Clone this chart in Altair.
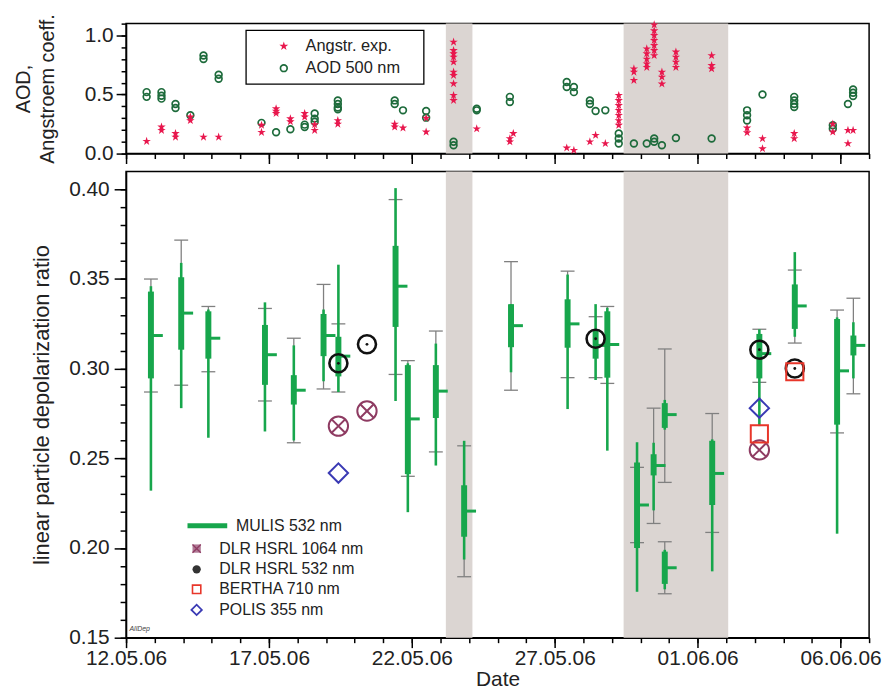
import altair as alt
import pandas as pd

# x positions are days after 12.05.06 00:00

ang_day = [0.72, 1.24, 1.24, 1.73, 1.73, 2.25, 2.25, 2.71, 3.24, 4.74, 4.74, 5.25, 5.25, 5.25,
           5.75, 5.75, 6.25, 6.25, 6.60, 6.60, 7.41, 7.41, 9.40, 9.40, 9.69, 10.50, 10.50,
           11.46, 11.46, 11.46, 11.46, 11.46, 11.46, 11.46, 11.46, 11.46, 11.46,
           12.27, 13.43, 13.43, 13.55, 15.42, 15.67, 16.23, 16.43, 16.77,
           17.24, 17.24, 17.24, 17.24, 17.24, 17.24, 17.24, 17.77, 17.77, 17.77,
           18.22, 18.22, 18.22, 18.22, 18.22, 18.48, 18.48, 18.48, 18.48, 18.48, 18.48, 18.48,
           18.75, 18.75, 18.75, 19.24, 19.24, 19.24, 19.24, 20.49, 20.49, 20.49,
           21.73, 21.73, 22.27, 22.27, 23.38, 23.38, 24.73, 24.73, 25.26, 25.26, 25.44]
ang_val = [0.104, 0.225, 0.197, 0.17, 0.14, 0.31, 0.28, 0.14, 0.14, 0.24, 0.18, 0.38, 0.36, 0.34,
           0.296, 0.27, 0.34, 0.31, 0.245, 0.197, 0.28, 0.25, 0.25, 0.225, 0.217, 0.30, 0.183,
           0.944, 0.873, 0.845, 0.817, 0.775, 0.69, 0.662, 0.592, 0.493, 0.45,
           0.21, 0.127, 0.10, 0.17, 0.048, 0.028, 0.10, 0.155, 0.085,
           0.493, 0.45, 0.408, 0.366, 0.324, 0.28, 0.24, 0.718, 0.69, 0.62,
           0.887, 0.845, 0.80, 0.76, 0.73, 1.09, 1.04, 1.0, 0.958, 0.915, 0.873, 0.83,
           0.69, 0.648, 0.59, 0.86, 0.817, 0.775, 0.73, 0.83, 0.746, 0.718,
           0.217, 0.177, 0.127, 0.042, 0.17, 0.127, 0.25, 0.183, 0.197, 0.085, 0.197]

aod_day = [0.72, 0.72, 1.24, 1.24, 1.24, 1.73, 1.73, 2.25, 2.71, 2.71, 3.24, 3.24, 4.74, 5.25,
           5.75, 6.25, 6.25, 6.60, 6.60, 6.60, 7.41, 7.41, 7.41, 7.41, 9.40, 9.40, 9.69,
           10.50, 10.50, 11.46, 11.46, 12.27, 12.27, 13.43, 13.43, 15.42, 15.42, 15.67, 15.67,
           16.23, 16.23, 16.43, 16.77, 17.24, 17.24, 17.24, 17.77, 18.22, 18.48, 18.48, 18.75,
           19.24, 20.49, 21.73, 21.73, 21.73, 22.27, 23.38, 23.38, 23.38, 23.38, 24.73, 24.73,
           25.26, 25.44, 25.44, 25.44]
aod_val = [0.52, 0.48, 0.52, 0.49, 0.465, 0.42, 0.386, 0.324, 0.83, 0.80, 0.667, 0.634, 0.26, 0.18,
           0.206, 0.245, 0.225, 0.34, 0.296, 0.27, 0.45, 0.42, 0.39, 0.375, 0.45, 0.42, 0.366,
           0.36, 0.304, 0.10, 0.07, 0.38, 0.366, 0.48, 0.437, 0.606, 0.563, 0.563, 0.52,
           0.45, 0.42, 0.36, 0.366, 0.17, 0.127, 0.085, 0.085, 0.085, 0.127, 0.10, 0.07,
           0.132, 0.127, 0.366, 0.324, 0.28, 0.50, 0.48, 0.45, 0.42, 0.394, 0.24, 0.21,
           0.42, 0.543, 0.515, 0.487]

top_series = ["Angstr. exp.", "AOD 500 nm"]

m_day = [0.87, 1.93, 2.88, 4.86, 5.87, 6.91, 7.43, 9.43, 9.86, 10.84, 11.83, 13.47,
         15.45, 16.43, 16.84, 17.88, 18.46, 18.85, 18.85, 20.51, 22.16, 23.40, 24.88, 25.45]
m_min = [0.232, 0.278, 0.2615, 0.265, 0.260, 0.293, 0.287, 0.282, 0.220, 0.246, 0.1936, 0.298,
         0.2775, 0.2937, 0.2543, 0.1756, 0.221, 0.266, 0.177, 0.187, 0.268, 0.3178, 0.208, 0.2946]
m_max = [0.346, 0.359, 0.333, 0.337, 0.313, 0.333, 0.358, 0.4007, 0.303, 0.314, 0.2598, 0.336,
         0.3525, 0.336, 0.334, 0.259, 0.2587, 0.2826, 0.199, 0.2606, 0.322, 0.365, 0.3286, 0.3259]
m_q1 = [0.2946, 0.3106, 0.3056, 0.291, 0.280, 0.307, 0.2957, 0.3233, 0.2412, 0.2725, 0.2063, 0.312,
        0.3117, 0.3056, 0.295, 0.200, 0.2405, 0.267, 0.180, 0.224, 0.2946, 0.3222, 0.2688, 0.3074]
m_q3 = [0.343, 0.351, 0.332, 0.3244, 0.2964, 0.3305, 0.3178, 0.3685, 0.302, 0.302, 0.235, 0.336,
        0.3387, 0.321, 0.332, 0.2477, 0.2523, 0.2808, 0.198, 0.2598, 0.3194, 0.347, 0.3277, 0.3185]
m_mean = [0.3185, 0.331, 0.317, 0.3078, 0.288, 0.3185, 0.307, 0.346, 0.272, 0.2875, 0.2206, 0.324,
          0.325, 0.313, 0.3135, 0.224, 0.246, 0.2744, 0.189, 0.2416, 0.3084, 0.335, 0.2988, 0.313]
m_sd_lo = [0.287, 0.2908, 0.2983, 0.282, 0.2587, 0.2887, 0.287, 0.2968, 0.240, 0.2536, 0.184, 0.288,
           0.295, 0.295, 0.2918, 0.203, 0.2137, 0.2366, 0.1745, 0.2087, 0.2924, 0.3143, 0.2642, 0.286]
m_sd_hi = [0.350, 0.3717, 0.3347, 0.3336, 0.317, 0.347, 0.325, 0.3943, 0.3045, 0.321, 0.257, 0.3597,
           0.3544, 0.329, 0.3347, 0.245, 0.278, 0.311, 0.2035, 0.275, 0.322, 0.355, 0.3327, 0.3393]

hsrl1064_day = [7.43, 8.43, 22.16]
hsrl1064_val = [0.268, 0.2764, 0.2547]
hsrl532_day = [7.43, 8.43, 16.43, 22.16, 23.40]
hsrl532_val = [0.303, 0.3136, 0.3167, 0.3106, 0.3001]
bertha_day = [22.16, 23.40]
bertha_val = [0.2637, 0.2983]
polis_day = [7.43, 22.16]
polis_val = [0.2418, 0.278]

shade_start = [11.19, 17.41]
shade_end = [12.12, 21.07]

bottom_series = ["MULIS 532 nm", "DLR HSRL 1064 nm", "DLR HSRL 532 nm", "BERTHA   710 nm", "POLIS 355 nm"]

x_tick_labels = ["12.05.06", "17.05.06", "22.05.06", "27.05.06", "01.06.06", "06.06.06"]
x_tick_days = [0, 5, 10, 15, 20, 25]

# legend placement (data units of each panel)
top_leg_box = {"x0": 4.2, "x1": 10.42, "y0": 0.588, "y1": 1.042}
top_leg_sym_day, top_leg_lab_day, top_leg_rows = 5.52, 6.28, [0.908, 0.723]
bot_leg_sym_day, bot_leg_lab_day, bot_leg_rows = 2.47, 3.26, [0.2124, 0.1997, 0.1881, 0.1770, 0.1655]
bot_leg_line = (2.15, 3.54)
bot_leg_mulis_lab_day = 3.85

GREEN = "#17a64c"
GRAY = "#808080"
RED = "#e8174d"
DGREEN = "#1d6b3b"
PURPLE = "#8e3b62"
BLUE = "#3a3ab4"
ORANGE = "#e8362a"
SHADE = "#dbd5d2"
FONT = "Liberation Sans"
TXT = "#222222"
W = 749

# five-pointed star as an SVG symbol path
STAR = ("M0,-1L0.2245,-0.309L0.951,-0.309L0.363,0.118L0.588,0.809L0,0.382"
        "L-0.588,0.809L-0.363,0.118L-0.951,-0.309L-0.2245,-0.309Z")
XCROSS = "M-0.72,-0.72L0.72,0.72M-0.72,0.72L0.72,-0.72"

xs = alt.Scale(domain=[0, 26], nice=False, zero=False)
label_expr = "[" + ",".join("'%s'" % l for l in x_tick_labels) + "][round(datum.value / 5)]"


def x_major(labels):
    if labels:
        return alt.Axis(values=x_tick_days, labelExpr=label_expr, tickSize=10, orient="bottom",
                        labelFlush=False, labelOverlap=False, labelFontSize=21, labelPadding=0,
                        title="Date", titleFontSize=21, titlePadding=0)
    return alt.Axis(values=x_tick_days, tickSize=10, orient="bottom", labels=False, title=None)


x_minor = alt.Axis(values=list(range(27)), tickSize=5, orient="bottom", labels=False, title=None, domain=False)
XN = alt.X("day:Q", scale=xs, axis=None)

# ---------------- top chart ----------------
yt = alt.Scale(domain=[0, 1.1], nice=False, zero=False)
YTN = alt.Y("v:Q", scale=yt, axis=None)
aod_df = pd.DataFrame({"day": aod_day, "v": aod_val})
ang_df = pd.DataFrame({"day": ang_day, "v": ang_val})
tshade_df = pd.DataFrame({"s": shade_start, "e": shade_end, "y0": [0.0] * 2, "y1": [1.1] * 2})

tshade = alt.Chart(tshade_df).mark_rect(color=SHADE).encode(
    x=alt.X("s:Q", scale=xs, axis=x_major(False)), x2="e:Q",
    y=alt.Y("y0:Q", scale=yt,
            axis=alt.Axis(values=[0.0, 0.5, 1.0], format=".1f", tickSize=10, orient="left",
                          labelFontSize=21, labelPadding=3, minExtent=59, maxExtent=59,
                          title=["AOD,", "Angstroem coeff."], titleFontSize=20, titleLineHeight=24,
                          titlePadding=10)),
    y2="y1:Q")
aod_pts = alt.Chart(aod_df).mark_point(shape="circle", size=46, strokeWidth=1.7, color=DGREEN, opacity=1).encode(
    x=alt.X("day:Q", scale=xs, axis=x_minor),
    y=alt.Y("v:Q", scale=yt,
            axis=alt.Axis(values=[round(0.1 * i, 1) for i in range(12)], tickSize=5, orient="left",
                          labels=False, title=None, domain=False)))
ang_pts = alt.Chart(ang_df).mark_point(shape=STAR, size=80, filled=True, color=RED, opacity=1).encode(x=XN, y=YTN)

tbox = alt.Chart(pd.DataFrame([top_leg_box])).mark_rect(fill="white", stroke="black", strokeWidth=1.3).encode(
    x=alt.X("x0:Q", scale=xs, axis=None), x2="x1:Q", y=alt.Y("y0:Q", scale=yt, axis=None), y2="y1:Q")
tl_df = pd.DataFrame({"day": [top_leg_sym_day] * 2, "v": top_leg_rows, "lab_day": [top_leg_lab_day] * 2,
                      "t": top_series})
tl_star = alt.Chart(tl_df.iloc[[0]]).mark_point(shape=STAR, size=90, filled=True, color=RED, opacity=1).encode(x=XN, y=YTN)
tl_circ = alt.Chart(tl_df.iloc[[1]]).mark_point(shape="circle", size=46, strokeWidth=1.7, color=DGREEN, opacity=1).encode(x=XN, y=YTN)
tl_text = alt.Chart(tl_df).mark_text(align="left", baseline="middle", font=FONT, fontSize=16.5, color=TXT).encode(
    x=alt.X("lab_day:Q", scale=xs, axis=None), y=YTN, text="t:N")

top = alt.layer(tshade, aod_pts, ang_pts, tbox, tl_star, tl_circ, tl_text).resolve_axis(
    x="independent", y="independent").properties(width=W, height=131)

# ---------------- bottom chart ----------------
mdf = pd.DataFrame({"day": m_day, "mn": m_min, "mx": m_max, "q1": m_q1, "q3": m_q3,
                    "avg": m_mean, "slo": m_sd_lo, "shi": m_sd_hi})
yb = alt.Scale(domain=[0.15, 0.41], nice=False, zero=False)
shade_df = pd.DataFrame({"s": shade_start, "e": shade_end, "y0": [0.15] * 2, "y1": [0.41] * 2})

y_major_b = alt.Axis(values=[0.15, 0.20, 0.25, 0.30, 0.35, 0.40], format=".2f", tickSize=12, orient="left",
                     labelFontSize=21, labelPadding=5, minExtent=59, maxExtent=59,
                     title="linear particle depolarization ratio", titleFontSize=22, titlePadding=14)
y_minor_b = alt.Axis(values=[round(0.15 + 0.01 * i, 2) for i in range(26)], tickSize=6, orient="left",
                     labels=False, title=None, domain=False)
YV = alt.Y("v:Q", scale=yb, axis=None)

shade = alt.Chart(shade_df).mark_rect(color=SHADE).encode(
    x=alt.X("s:Q", scale=xs, axis=x_major(True)), x2="e:Q",
    y=alt.Y("y0:Q", scale=yb, axis=None), y2="y1:Q")

base = alt.Chart(mdf)
sd_line = base.mark_rule(color=GRAY, strokeWidth=1.3).encode(
    x=alt.X("day:Q", scale=xs, axis=x_minor),
    y=alt.Y("slo:Q", scale=yb, axis=y_major_b), y2="shi:Q")
cap_lo = base.mark_rule(color=GRAY, strokeWidth=1.3, xOffset=-7, x2Offset=7).encode(
    x=XN, x2="day:Q", y=alt.Y("slo:Q", scale=yb, axis=y_minor_b))
cap_hi = base.mark_rule(color=GRAY, strokeWidth=1.3, xOffset=-7, x2Offset=7).encode(
    x=XN, x2="day:Q", y=alt.Y("shi:Q", scale=yb, axis=None))
thin = base.mark_rule(color=GREEN, strokeWidth=2.6).encode(x=XN, y=alt.Y("mn:Q", scale=yb, axis=None), y2="mx:Q")
thick = base.mark_rule(color=GREEN, strokeWidth=6).encode(x=XN, y=alt.Y("q1:Q", scale=yb, axis=None), y2="q3:Q")
mean_t = base.mark_rule(color=GREEN, strokeWidth=3, x2Offset=12).encode(
    x=XN, x2="day:Q", y=alt.Y("avg:Q", scale=yb, axis=None))

d1064 = pd.DataFrame({"day": hsrl1064_day, "v": hsrl1064_val})
d532 = pd.DataFrame({"day": hsrl532_day, "v": hsrl532_val})
dber = pd.DataFrame({"day": bertha_day, "v": bertha_val})
dpol = pd.DataFrame({"day": polis_day, "v": polis_val})

c1064 = alt.Chart(d1064).mark_point(shape="circle", size=380, strokeWidth=2, color=PURPLE, opacity=1).encode(x=XN, y=YV)
x1064 = alt.Chart(d1064).mark_point(shape=XCROSS, size=380, strokeWidth=2, color=PURPLE, opacity=1).encode(x=XN, y=YV)
c532 = alt.Chart(d532).mark_point(shape="circle", size=330, strokeWidth=2.6, color="#111111", opacity=1).encode(x=XN, y=YV)
dot532 = alt.Chart(d532).mark_point(shape="circle", size=8, filled=True, color="#111111", opacity=1).encode(x=XN, y=YV)
sber = alt.Chart(dber).mark_point(shape="square", size=300, strokeWidth=2, color=ORANGE, opacity=1).encode(x=XN, y=YV)
spol = alt.Chart(dpol).mark_point(shape="diamond", size=380, strokeWidth=2, color=BLUE, opacity=1).encode(x=XN, y=YV)

note = alt.Chart(pd.DataFrame({"day": [0.12], "v": [0.1548], "t": ["AllDep"]})).mark_text(
    align="left", fontSize=7, fontStyle="italic", font=FONT, color="#444").encode(x=XN, y=YV, text="t:N")

bl_df = pd.DataFrame({"day": [bot_leg_sym_day] * 5, "v": bot_leg_rows,
                      "lab_day": [bot_leg_mulis_lab_day] + [bot_leg_lab_day] * 4, "t": bottom_series})
bl_line = alt.Chart(pd.DataFrame({"a": [bot_leg_line[0]], "b": [bot_leg_line[1]], "v": [bot_leg_rows[0]]})).mark_rule(
    color=GREEN, strokeWidth=5).encode(x=alt.X("a:Q", scale=xs, axis=None), x2="b:Q", y=YV)
bl_1064 = alt.Chart(bl_df.iloc[[1]]).mark_point(shape="square", size=70, filled=True, color="#b07a96", opacity=1).encode(x=XN, y=YV)
bl_1064x = alt.Chart(bl_df.iloc[[1]]).mark_point(shape="M-1,-1L1,1M-1,1L1,-1", size=70, strokeWidth=1.3, color=PURPLE, opacity=1).encode(x=XN, y=YV)
bl_532 = alt.Chart(bl_df.iloc[[2]]).mark_point(shape="circle", size=70, filled=True, color="#333333", opacity=1).encode(x=XN, y=YV)
bl_ber = alt.Chart(bl_df.iloc[[3]]).mark_point(shape="square", size=70, strokeWidth=1.6, color=ORANGE, opacity=1).encode(x=XN, y=YV)
bl_pol = alt.Chart(bl_df.iloc[[4]]).mark_point(shape="diamond", size=110, strokeWidth=1.8, color=BLUE, opacity=1).encode(x=XN, y=YV)
bl_text = alt.Chart(bl_df).mark_text(align="left", baseline="middle", font=FONT, fontSize=16, color=TXT).encode(
    x=alt.X("lab_day:Q", scale=xs, axis=None), y=YV, text="t:N")

bottom = alt.layer(shade, sd_line, cap_lo, cap_hi, thin, thick, mean_t, c1064, x1064, c532, dot532,
                   sber, spol, note, bl_line, bl_1064, bl_1064x, bl_532, bl_ber, bl_pol, bl_text).resolve_axis(
    x="independent", y="independent").properties(width=W, height=470)

chart = alt.vconcat(top, bottom, spacing=5).properties(
    padding={"left": 5, "top": 2, "right": 0, "bottom": 0}
).configure_view(
    stroke="black", strokeWidth=1.5
).configure_axis(
    labelFont=FONT, titleFont=FONT, labelColor=TXT, titleColor=TXT, titleFontWeight="normal",
    domainColor="black", domainWidth=1.5, tickColor="black", tickWidth=1.5, grid=False
)

chart.save("out.html", embed_options={"renderer": "svg", "actions": False})
